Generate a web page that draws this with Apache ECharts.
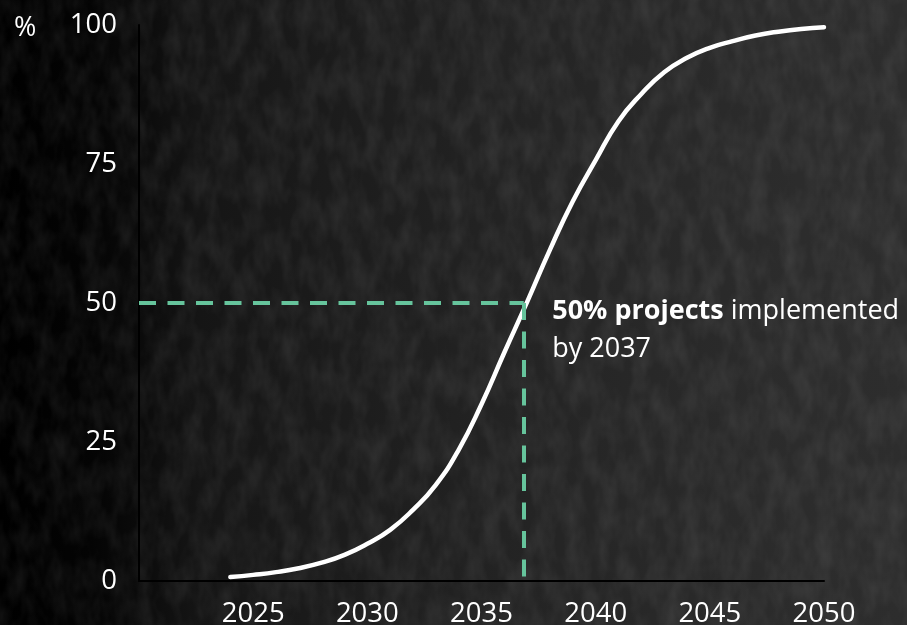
<!DOCTYPE html>
<html>
<head>
<meta charset="utf-8">
<script src="https://cdn.jsdelivr.net/npm/echarts@6/dist/echarts.min.js"></script>
<style>
  html, body { margin:0; padding:0; width:907px; height:625px; overflow:hidden; }
  body {
    background:
      url("data:image/svg+xml;utf8,<svg xmlns='http://www.w3.org/2000/svg' width='907' height='625'><filter id='n'><feTurbulence type='fractalNoise' baseFrequency='0.06 0.03' numOctaves='3' seed='7'/><feColorMatrix values='0 0 0 0 0.55  0 0 0 0 0.55  0 0 0 0 0.55  0.18 0 0 0 -0.06'/></filter><rect width='100%' height='100%' filter='url(%23n)'/></svg>"),
      linear-gradient(90deg, #000 0%, #040404 10%, #0a0a0a 15%, #151515 22%, #1c1c1c 38%, #232323 55%, #282828 72%, #2c2c2c 88%, #2d2d2d 100%);
  }
  #chart { width:907px; height:625px; }
</style>
</head>
<body>
<div id="chart"></div>
<script>
// ---- data ----
const years = [2024,2025,2026,2027,2028,2029,2030,2031,2032,2033,2034,2035,2036,2037,
               2038,2039,2040,2041,2042,2043,2044,2045,2046,2047,2048,2049,2050];
const share = [0.7,1.1,1.6,2.3,3.3,4.7,6.7,9.2,12.8,17.3,23.6,31.8,41.1,50.2,
               59.6,68.3,75.7,82.7,87.6,91.5,94.1,95.9,97.1,98.1,98.8,99.3,99.6];
const yTicks = [0,25,50,75,100];
const xTicks = [2025,2030,2035,2040,2045,2050];
const milestoneYear = 2036.85;
const milestoneShare = 50;
const noteBold = '50% projects';
const noteRest = ' implemented';
const noteLine2 = 'by 2037';
const unitLabel = '%';

const FONT = '"Open Sans", "Noto Sans", sans-serif';
const GREEN = '#66c49c';

const chart = echarts.init(document.getElementById('chart'));
chart.setOption({
  backgroundColor: 'transparent',
  animation: false,
  title: {
    text: unitLabel, left: 9, top: 10,
    textStyle: { color: '#fff', fontSize: 27, fontWeight: 'normal', fontFamily: FONT }
  },
  grid: { left: 139, right: 83, top: 25, bottom: 44, outerBoundsMode: 'none', containLabel: false },
  xAxis: {
    type: 'value', min: 2020, max: 2050, interval: 5,
    axisLine: { show: true, lineStyle: { color: '#000', width: 2 } },
    axisTick: { show: false },
    splitLine: { show: false },
    axisLabel: {
      color: '#fff', fontSize: 27.5, fontFamily: FONT, margin: 19,
      formatter: v => xTicks.includes(v) ? String(v) : ''
    }
  },
  yAxis: {
    type: 'value', min: 0, max: 100, interval: 25,
    axisLine: { show: true, lineStyle: { color: '#000', width: 2 } },
    axisTick: { show: false },
    splitLine: { show: false },
    axisLabel: {
      color: '#fff', fontSize: 27.5, fontFamily: FONT, margin: 22,
      padding: [9, 0, 0, 0],
      formatter: v => yTicks.includes(v) ? String(v) : ''
    }
  },
  series: [
    {
      type: 'line',
      data: years.map((y, i) => [y, share[i]]),
      smooth: true,
      showSymbol: false,
      lineStyle: { color: '#fff', width: 4.5, cap: 'round' },
      z: 3,
      markLine: {
        silent: true,
        symbol: 'none',
        label: { show: false },
        lineStyle: { color: GREEN, width: 4, type: [17, 11.5] },
        data: [
          [{ coord: [2020, milestoneShare] }, { coord: [milestoneYear, milestoneShare] }],
          [{ coord: [milestoneYear, milestoneShare] }, { coord: [milestoneYear, 0] }]
        ]
      }
    },
    {
      type: 'scatter',
      data: [[milestoneYear, milestoneShare]],
      symbolSize: 1,
      itemStyle: { color: 'rgba(0,0,0,0)', opacity: 1 },
      silent: true,
      z: 4,
      label: {
        show: true,
        opacity: 1,
        position: [29, -10],
        align: 'left',
        verticalAlign: 'top',
        formatter: '{b|' + noteBold + '}{r|' + noteRest + '}\n{r|' + noteLine2 + '}',
        rich: {
          b: { color: '#ffffff', fontSize: 27, fontWeight: 'bold', fontFamily: FONT, lineHeight: 38 },
          r: { color: '#ffffff', fontSize: 27, fontFamily: FONT, lineHeight: 38 }
        }
      }
    }
  ]
});
</script>
</body>
</html>
